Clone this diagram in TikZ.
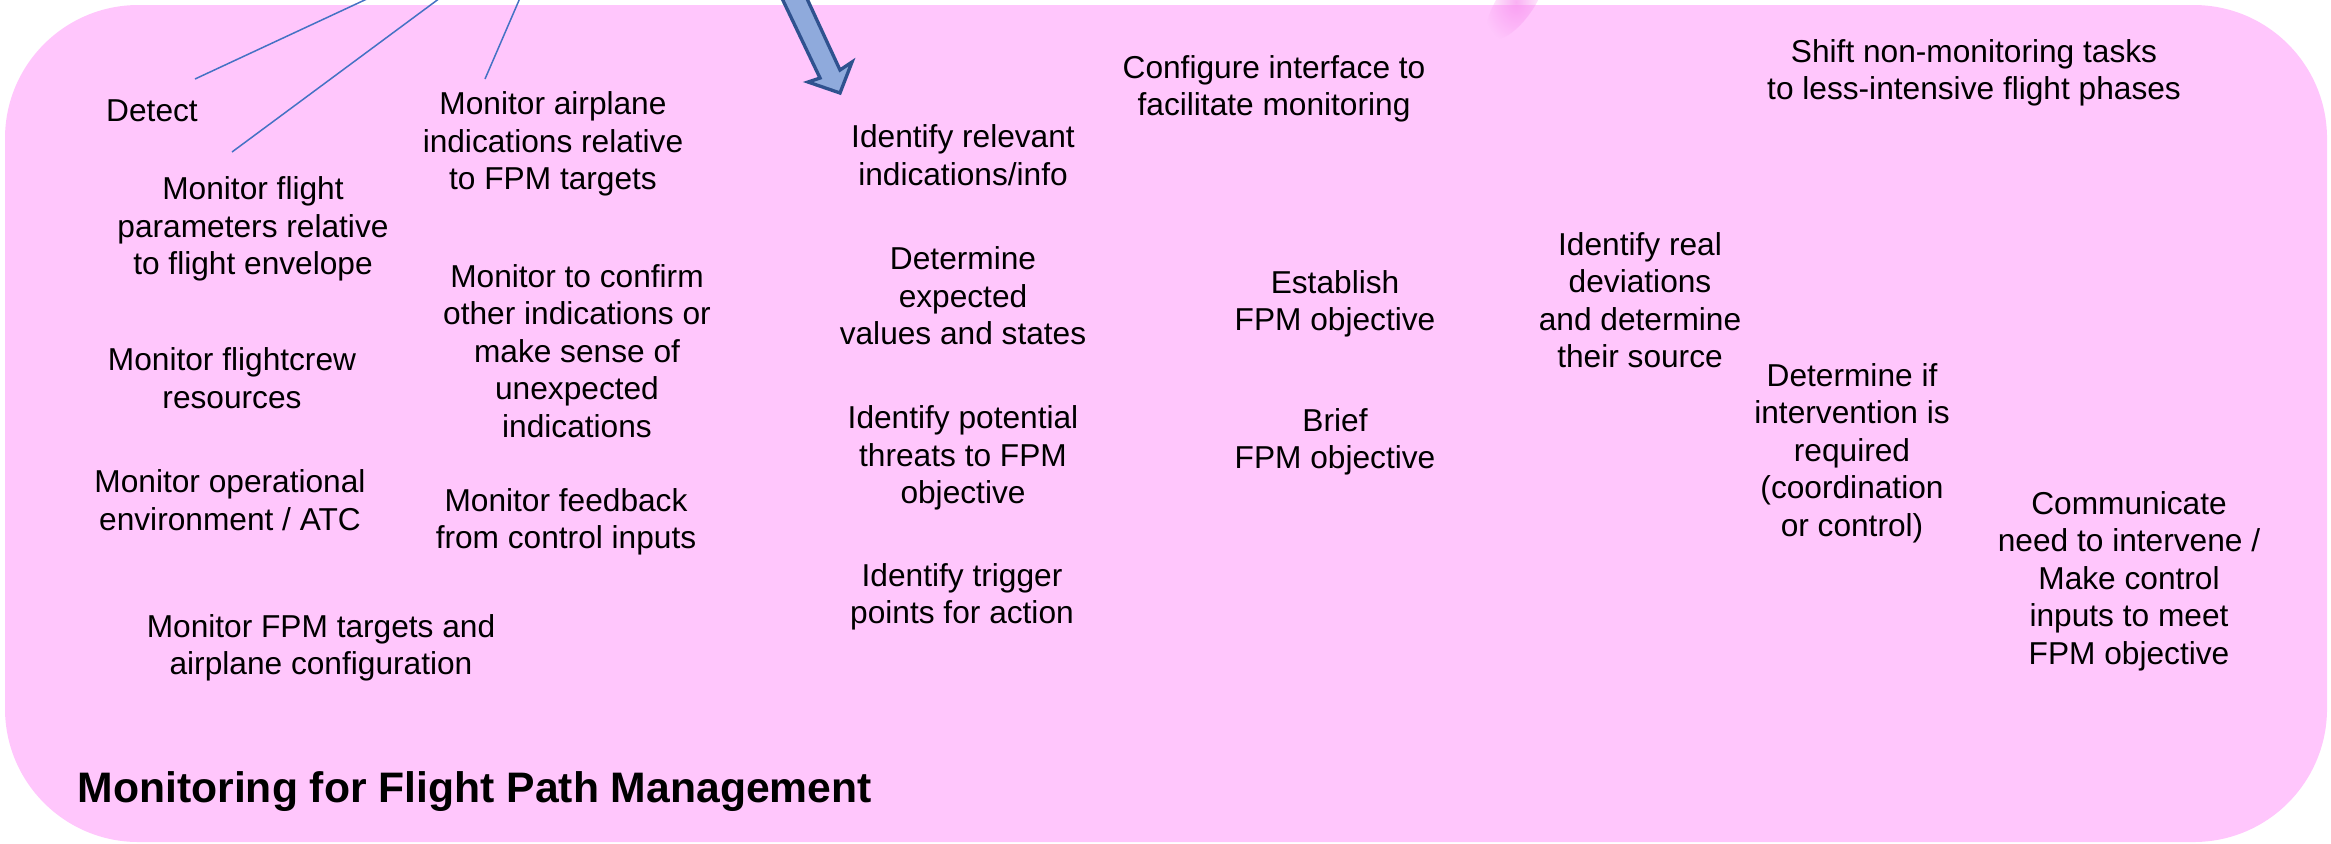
\documentclass[tikz,border=0pt]{standalone}
\usepackage{fontspec}
\setmainfont{Liberation Sans}
\usetikzlibrary{fadings}
\definecolor{panel}{HTML}{FFC6FC}
\definecolor{haze}{HTML}{F78FEE}
\definecolor{leader}{HTML}{4472C4}
\definecolor{arrowfill}{HTML}{8FAADC}
\definecolor{arrowedge}{HTML}{2F528F}
\tikzfading[name=softspot, inner color=transparent!0, outer color=transparent!100]
\tikzset{
  task/.style={align=center, inner sep=0pt, text=black,
    font=\fontsize{9.5}{11.25}\selectfont},
  heading/.style={anchor=west, inner sep=0pt, text=black,
    font=\fontsize{12.8}{15}\selectfont\bfseries},
  leaderline/.style={draw=leader, line width=0.45pt},
  blockarrow/.style={fill=arrowfill, draw=arrowedge, line width=1pt, line join=miter}
}
\begin{document}
\begin{tikzpicture}[x=0.3pt,y=-0.3pt]
\useasboundingbox (0,0) rectangle (2331,843);
\clip (0,0) rectangle (2331,843);

% rounded panel
\fill[panel, rounded corners=40pt] (5,5) rectangle (2327,842);

% soft pink streak at the top edge
\fill[haze, path fading=softspot, opacity=0.7, rotate around={-35:(1516,2)}]
  (1516,2) ellipse [x radius=18, y radius=44];

% block arrow entering from above
\filldraw[blockarrow] (778,-10) -- (803,-10) -- (840,70) -- (852,62) -- (840,93)
  -- (808,82) -- (820,78) -- cycle;

% task labels
\node[task] (detect) at (152,111) {Detect};
\node[task] (flightparams) at (253,229) {Monitor flight\\parameters relative\\to flight envelope};
\node[task] (airplaneind) at (553,144) {Monitor airplane\\indications relative\\to FPM targets};
\node[task] (crew) at (232,378) {Monitor flightcrew\\resources};
\node[task] (confirm) at (577,351) {Monitor to confirm\\other indications or\\make sense of\\unexpected\\indications};
\node[task] (openv) at (230,500) {Monitor operational\\environment / ATC};
\node[task] (feedback) at (566,522) {Monitor feedback\\from control inputs};
\node[task] (fpmtargets) at (321,648) {Monitor FPM targets and\\airplane configuration};

\node[task] (relevant) at (963,155) {Identify relevant\\indications/info};
\node[task] (expected) at (963,296) {Determine\\expected\\values and states};
\node[task] (threats) at (963,458) {Identify potential\\threats to FPM\\objective};
\node[task] (trigger) at (962,597) {Identify trigger\\points for action};

\node[task] (configure) at (1274,89) {Configure interface to\\facilitate monitoring};
\node[task] (establish) at (1335,304) {Establish\\FPM objective};
\node[task] (brief) at (1335,442) {Brief\\FPM objective};

\node[task] (realdev) at (1640,300) {Identify real\\deviations\\and determine\\their source};
\node[task] (shift) at (1974,73) {Shift non-monitoring tasks\\to less-intensive flight phases};
\node[task] (intervene) at (1852,453) {Determine if\\intervention is\\required\\(coordination\\or control)};
\node[task] (communicate) at (2129,581) {Communicate\\need to intervene /\\Make control\\inputs to meet\\FPM objective};

\node[heading] (title) at (77,792) {Monitoring for Flight Path Management};

% leader lines from above the panel
\coordinate (srcA) at (369,-2);
\coordinate (srcB) at (440,-2);
\coordinate (srcC) at (520,-2);
\coordinate (endA) at (195,79);
\coordinate (endB) at (232,152);
\coordinate (endC) at (485,79);
\draw[leaderline] (srcA) -- (endA);
\draw[leaderline] (srcB) -- (endB);
\draw[leaderline] (srcC) -- (endC);
\end{tikzpicture}
\end{document}
